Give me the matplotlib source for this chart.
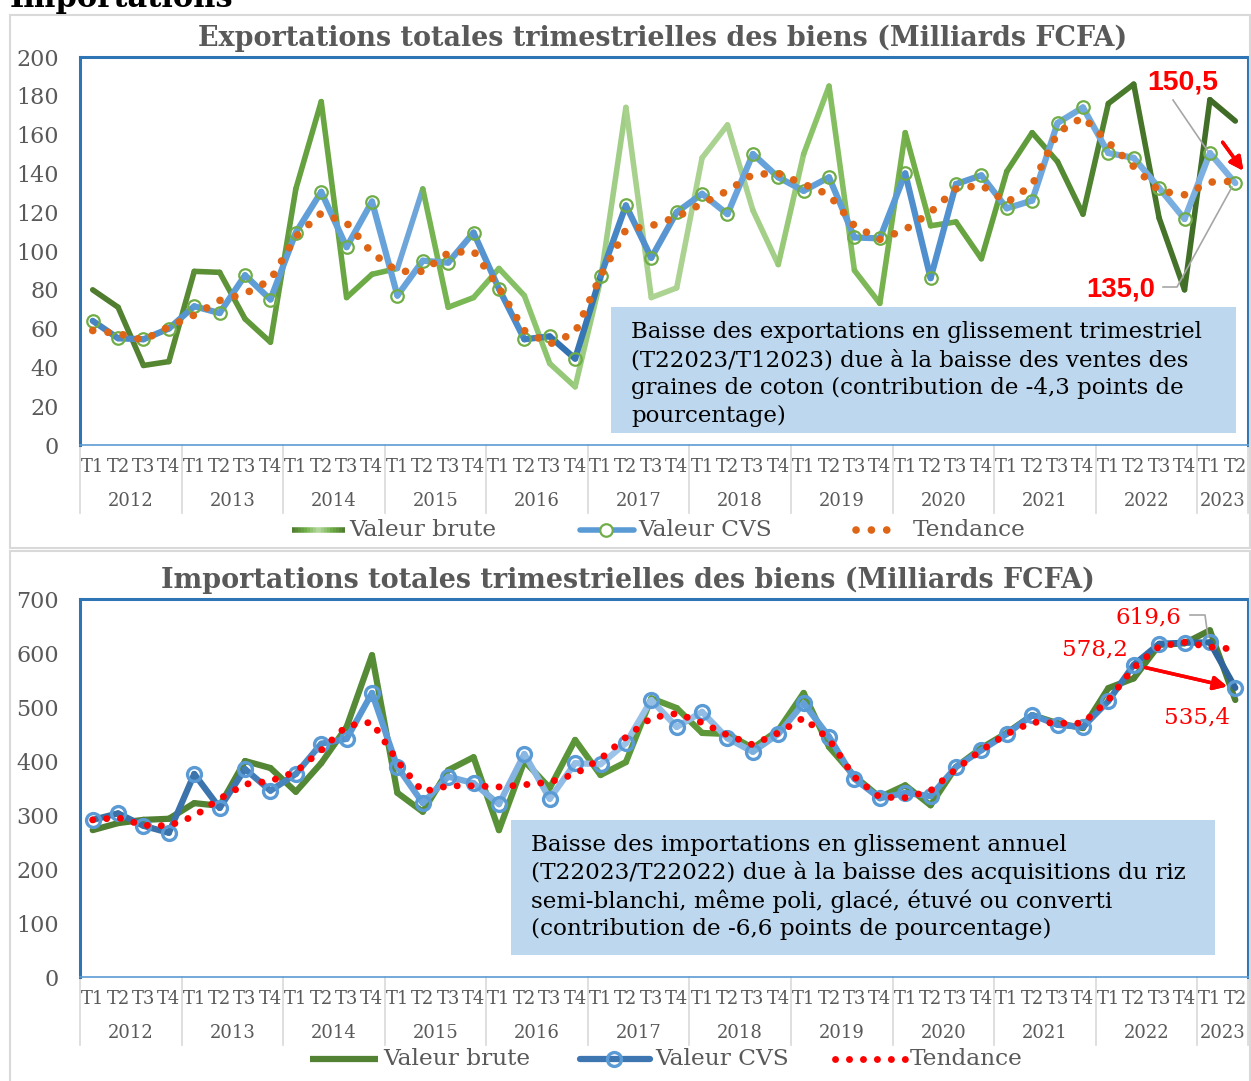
import numpy as np
import matplotlib
matplotlib.use('Agg')
import matplotlib.pyplot as plt
from matplotlib.collections import LineCollection
from matplotlib.colors import LinearSegmentedColormap
from matplotlib.lines import Line2D
from matplotlib.patches import Rectangle

plt.rcParams['font.family'] = ['DejaVu Serif']

W, H = 1251, 1081

years = ['2012', '2013', '2014', '2015', '2016', '2017', '2018', '2019',
         '2020', '2021', '2022', '2023']
quarters = ['T1', 'T2', 'T3', 'T4'] * 11 + ['T1', 'T2']

# Exportations (Milliards FCFA)
exp_brute = [80, 71, 41, 43, 89.5, 89, 65, 53, 132, 177, 76, 88,
             91, 132, 71, 76, 91, 77, 42, 30, 85, 174, 76, 81,
             148, 165, 121, 93, 150, 185, 90, 73, 161, 113, 115, 96,
             141, 161, 146, 119, 176, 186, 117, 80, 178, 167]
exp_cvs = [64, 55, 54.5, 60, 71.5, 68, 87.5, 75, 109.5, 130.5, 102, 125.5,
           77, 95, 94, 109.5, 80.5, 54.5, 56, 44.5, 87, 123.5, 96.5, 120,
           129.5, 119, 150, 138, 131, 138, 107, 106.5, 140, 86, 134.5, 139,
           122, 126, 166, 174, 150.5, 148, 132.5, 116.5, 150.5, 135.0]
exp_tend = [59, 57.5, 54, 61, 67, 74.5, 78, 85, 107.5, 119.5, 114.5, 99,
            89.5, 89.5, 99, 100, 81, 59, 52, 58, 87, 111, 113, 117.5,
            124.5, 131, 139.5, 140, 134.5, 129, 113, 106, 111, 120, 132, 134,
            125, 134, 161, 169, 156, 143.5, 131, 129, 135.5, 136]

# Importations (Milliards FCFA)
imp_brute = [272, 285, 291, 293, 322, 317, 400, 387, 343, 396, 463, 596,
             341, 306, 383, 407, 272, 400, 350, 439, 374, 398, 516, 498,
             452, 450, 424, 457, 526, 426, 372, 333, 355, 318, 389, 424,
             452, 485, 470, 461, 535, 553, 615, 618, 642, 513]
imp_cvs = [291, 303, 280, 267, 376, 313, 385, 345, 376, 432, 441, 526,
           389, 322, 371, 359, 320, 413, 330, 396, 394, 433, 513, 463,
           491, 442, 417, 450, 507, 445, 367, 331, 341, 335, 389, 420,
           450, 485, 467, 463, 511, 578.2, 617, 619, 619.6, 535.4]
imp_tend = [291, 295, 281, 280, 298, 330, 357, 363, 380, 420, 465, 472,
            400, 343, 354, 354, 352, 356, 361, 376, 404, 444, 480, 488,
            471, 448, 430, 452, 480, 440, 370, 333, 332, 345, 385, 420,
            450, 472, 470, 470, 513, 573, 612, 620, 611, 607]

GREY = '#595959'
fig = plt.figure(figsize=(W / 100, H / 100), dpi=100)


def rect(x0, y0, x1, y1):
    return [x0 / W, 1 - y1 / H, (x1 - x0) / W, (y1 - y0) / H]


def ftext(x, y, s, **kw):
    return fig.text(x / W, 1 - y / H, s, **kw)


def fit(t, width):
    r = fig.canvas.get_renderer()
    w = t.get_window_extent(renderer=r).width
    t.set_fontsize(t.get_fontsize() * width / w)


def fline(xs, ys, **kw):
    fig.add_artist(Line2D([x / W for x in xs], [1 - y / H for y in ys],
                          transform=fig.transFigure, **kw))


def grad_line(ax, y, anchors, lw, z, override=None):
    cmap = LinearSegmentedColormap.from_list('g', anchors)
    x = np.arange(len(y))
    pts = np.column_stack([x, y])
    segs = np.stack([pts[:-1], pts[1:]], axis=1)
    t = (np.arange(len(segs)) + 0.5) / len(segs)
    cols = [cmap(v) for v in t]
    if override:
        for k, c in override.items():
            cols[k] = c
    lc = LineCollection(segs, colors=cols, linewidths=lw, capstyle='round',
                        joinstyle='round', zorder=z)
    ax.add_collection(lc)


def panel(box, ymax, ystep):
    x0, y0, x1, y1 = box
    ax = fig.add_axes(rect(x0, y0, x1, y1))
    ax.set_xlim(-0.5, 45.5)
    ax.set_ylim(0, ymax)
    ax.set_yticks(np.arange(0, ymax + 1, ystep))
    ax.set_xticks([])
    ax.tick_params(axis='y', length=0, pad=15, labelsize=16, labelcolor=GREY)
    for s in ['left', 'top', 'right']:
        ax.spines[s].set_color('#2E75B6')
        ax.spines[s].set_linewidth(2.2)
    ax.spines['bottom'].set_color('#5B9BD5')
    ax.spines['bottom'].set_linewidth(1.2)
    h = y1 - y0
    tr = ax.get_xaxis_transform()
    for i, q in enumerate(quarters):
        ax.text(i, -22 / h, q, transform=tr, ha='center', va='center',
                fontsize=13, color=GREY)
    for k, yr in enumerate(years):
        a, b = 4 * k, min(4 * k + 3, len(quarters) - 1)
        ax.text((a + b) / 2, -56 / h, yr, transform=tr, ha='center',
                va='center', fontsize=13, color=GREY)
    for b in list(np.arange(-0.5, 45, 4)) + [45.5]:
        ax.plot([b, b], [0, -68 / h], transform=tr, color='#D9D9D9', lw=1.2,
                clip_on=False)
    return ax


# outer frames and cut heading
fig.add_artist(Rectangle((10 / W, 1 - 548 / H), 1240 / W, 533 / H,
                         transform=fig.transFigure, fill=False,
                         ec='#D9D9D9', lw=1.5))
fig.add_artist(Rectangle((10 / W, 1 - 1090 / H), 1240 / W, 539 / H,
                         transform=fig.transFigure, fill=False,
                         ec='#D9D9D9', lw=1.5))
ftext(10, 7, 'Importations', fontsize=22, weight='bold', color='black',
      va='baseline')

# ---------------- Exportations ----------------
ax1 = panel((80, 57, 1248, 445), 200, 20)
t = ftext(663, 38, 'Exportations totales trimestrielles des biens (Milliards FCFA)',
          ha='center', va='center', fontsize=18, weight='bold', color=GREY)
fit(t, 933)

green_anchors = [(0, '#4e7a2e'), (0.1, '#5b8f36'), (0.22, '#6aa843'),
                 (0.33, '#7ab955'), (0.42, '#98cb7c'), (0.5, '#acd392'),
                 (0.58, '#a9d18e'), (0.63, '#8cc46a'), (0.72, '#72ae48'),
                 (0.82, '#5e9a3a'), (0.9, '#4a7a2c'), (1, '#3f6a26')]
grad_line(ax1, exp_brute, green_anchors, 4, 2, override={12: '#6fa6da'})
blue_anchors = [(0, '#4682c0'), (0.1, '#5b9bd5'), (0.3, '#6aa5dc'),
                (0.36, '#4f8fcc'), (0.42, '#2f6fae'), (0.46, '#4a89c8'),
                (0.55, '#6aa5dc'), (0.7, '#5b9bd5'), (0.73, '#4b8bcb'),
                (0.8, '#6aa5dc'), (1, '#7fb2e2')]
grad_line(ax1, exp_cvs, blue_anchors, 4.5, 3)
ax1.plot(np.arange(len(exp_cvs)), exp_cvs, ls='none', marker='o', ms=9,
         mfc='none', mec='#70AD47', mew=1.6, zorder=4)
ax1.plot(np.arange(len(exp_tend)), exp_tend, color='#DD6515', lw=5.5,
         ls=(0, (0.01, 2.0)), dash_capstyle='round', zorder=5)

fig.add_artist(Rectangle((611 / W, 1 - 433 / H), 625 / W, 126 / H,
                         transform=fig.transFigure, fc='#BDD7EE', ec='none',
                         zorder=6))
lines1 = ['Baisse des exportations en glissement trimestriel',
          '(T22023/T12023) due à la baisse des ventes des',
          'graines de coton (contribution de -4,3 points de',
          'pourcentage)']
tt = [ftext(631, 332 + 28 * i, s, fontsize=16, color='black', va='center',
            zorder=7) for i, s in enumerate(lines1)]
fit(tt[0], 574)
for t in tt[1:]:
    t.set_fontsize(tt[0].get_fontsize())

t = ftext(1183, 83, '150,5', ha='center', va='center', fontsize=16,
          weight='bold', color='#FF0000', family='Liberation Sans', zorder=8)
fit(t, 71)
t = ftext(1121, 289, '135,0', ha='center', va='center', fontsize=16,
          weight='bold', color='#FF0000', family='Liberation Sans', zorder=8)
fit(t, 69)
fline([1173, 1207], [100, 150], color='#A6A6A6', lw=1.2, zorder=8)
fline([1163, 1177, 1232], [287, 287, 187], color='#A6A6A6', lw=1.2, zorder=8)
fig.add_artist(plt.annotate('', xy=(1245, H - 173), xytext=(1221, H - 140),
                            xycoords='figure pixels', textcoords='figure pixels',
                            arrowprops=dict(arrowstyle='-|>', color='#FF0000',
                                            lw=2.5, mutation_scale=20)))

# legend 1
t = ftext(349, 530, 'Valeur brute', fontsize=16, color=GREY, va='center')
fit(t, 148)
lfs = t.get_fontsize()
leg_cmap = LinearSegmentedColormap.from_list(
    'leg', ['#4e7a2e', '#70ad47', '#b9dca4', '#70ad47', '#4e7a2e'])
n = 18
for k in range(n):
    fline([292 + 53 * k / n, 292 + 53 * (k + 1) / n], [530, 530],
          color=leg_cmap((k + 0.5) / n), lw=4, solid_capstyle='butt')
fline([580, 634], [530, 530], color='#5B9BD5', lw=4, solid_capstyle='round')
fline([606], [530], marker='o', ms=9, mfc='white', mec='#70AD47', mew=1.6)
ftext(638, 530, 'Valeur CVS', fontsize=lfs, color=GREY, va='center')
fline([856, 895], [530, 530], color='#DD6515', lw=5.5, ls=(0, (0.01, 2.0)),
      dash_capstyle='round')
ftext(913, 530, 'Tendance', fontsize=lfs, color=GREY, va='center')

# ---------------- Importations ----------------
ax2 = panel((80, 599, 1248, 977), 700, 100)
t = ftext(628, 580, 'Importations totales trimestrielles des biens (Milliards FCFA)',
          ha='center', va='center', fontsize=18, weight='bold', color=GREY)
fit(t, 936)

dg_anchors = [(0, '#4f7d31'), (0.5, '#5e9a3b'), (1, '#4f7d31')]
grad_line(ax2, imp_brute, dg_anchors, 4.5, 2)
cvs2_anchors = [(0, '#3a6fa3'), (0.12, '#3d76b0'), (0.25, '#5b9bd5'),
                (0.35, '#7fb0e0'), (0.45, '#9ec4e8'), (0.55, '#8fbbe4'),
                (0.65, '#5b9bd5'), (0.85, '#4f8fcf'), (0.93, '#336da8'),
                (1, '#2e6499')]
grad_line(ax2, imp_cvs, cvs2_anchors, 4.5, 3)
ax2.plot(np.arange(len(imp_cvs)), imp_cvs, ls='none', marker='o', ms=10,
         mfc='none', mec='#5B9BD5', mew=2.4, zorder=4)
ax2.plot(np.arange(len(imp_tend)), imp_tend, color='#FF0000', lw=5,
         ls=(0, (0.01, 2.0)), dash_capstyle='round', zorder=5)

fig.add_artist(Rectangle((511 / W, 1 - 955 / H), 704 / W, 135 / H,
                         transform=fig.transFigure, fc='#BDD7EE', ec='none',
                         zorder=6))
lines2 = ['Baisse des importations en glissement annuel',
          '(T22023/T22022) due à la baisse des acquisitions du riz',
          'semi-blanchi, même poli, glacé, étuvé ou converti',
          '(contribution de -6,6 points de pourcentage)']
tt = [ftext(531, 845 + 28 * i, s, fontsize=16, color='black', va='center',
            zorder=7) for i, s in enumerate(lines2)]
fit(tt[0], 538)
for t in tt[1:]:
    t.set_fontsize(tt[0].get_fontsize())

for s, x, y in [('619,6', 1148, 617), ('578,2', 1095, 649), ('535,4', 1197, 717)]:
    t = ftext(x, y, s, ha='center', va='center', fontsize=16,
              color='#FF0000', zorder=8)
    fit(t, 66)
fline([1190, 1205, 1208], [615, 615, 637], color='#A6A6A6', lw=1.2, zorder=8)
fig.add_artist(plt.annotate('', xy=(1230, H - 687), xytext=(1143, H - 667),
                            xycoords='figure pixels', textcoords='figure pixels',
                            arrowprops=dict(arrowstyle='-|>', color='#FF0000',
                                            lw=2.5, mutation_scale=20)))

# legend 2
ftext(383, 1059, 'Valeur brute', fontsize=lfs, color=GREY, va='center')
fline([310, 378], [1059, 1059], color='#548235', lw=4.5, solid_capstyle='butt')
fline([580, 650], [1059, 1059], color='#3d76b0', lw=4.5, solid_capstyle='round')
fline([614], [1059], marker='o', ms=10, mfc='none', mec='#5B9BD5', mew=2.4)
ftext(655, 1059, 'Valeur CVS', fontsize=lfs, color=GREY, va='center')
fline([835, 905], [1059, 1059], color='#FF0000', lw=5, ls=(0, (0.01, 2.0)),
      dash_capstyle='round')
ftext(910, 1059, 'Tendance', fontsize=lfs, color=GREY, va='center')

fig.savefig('out.png', dpi=100)
